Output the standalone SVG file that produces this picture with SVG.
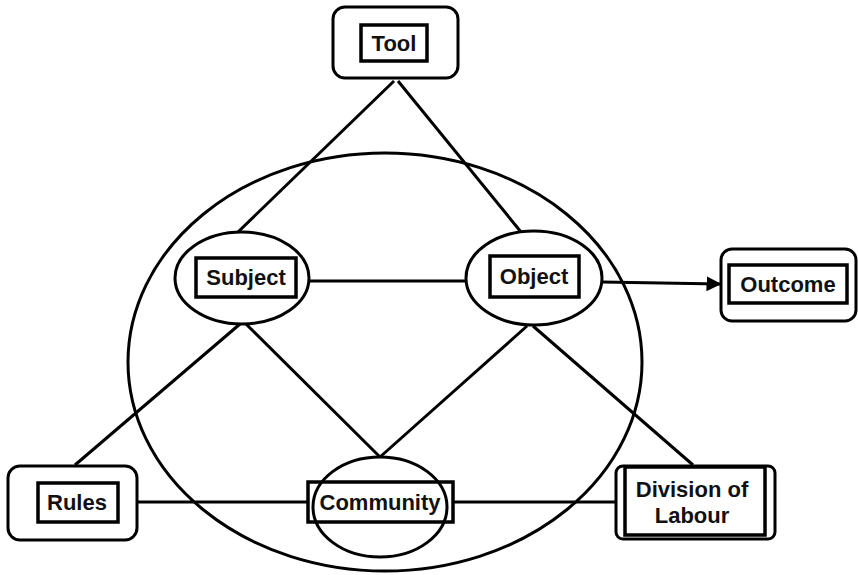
<svg xmlns="http://www.w3.org/2000/svg" width="858" height="575" viewBox="0 0 858 575">
<defs>
<style>
.ln{stroke:#000;stroke-width:3;fill:none}
.box{stroke:#000;stroke-width:3;fill:#fff}
.in{stroke:#000;stroke-width:3.5;fill:#fff}
.t{font-family:"Liberation Sans",Arial,sans-serif;font-weight:bold;font-size:22px;fill:#111;text-anchor:middle}
</style>
<marker id="ah" viewBox="0 0 10 10" refX="9" refY="5" markerWidth="5" markerHeight="5" orient="auto" markerUnits="strokeWidth">
<path d="M0,0 L10,5 L0,10 z" fill="#000"/>
</marker>
</defs>
<rect width="858" height="575" fill="#fff"/>
<ellipse id="context" class="ln" cx="385" cy="362" rx="257" ry="209"/>
<g id="connectors">
<line class="ln" x1="394" y1="81" x2="238" y2="232"/>
<line class="ln" x1="398" y1="81" x2="521" y2="232"/>
<line class="ln" x1="309" y1="281" x2="466" y2="281"/>
<line class="ln" x1="602" y1="282" x2="720" y2="284" marker-end="url(#ah)"/>
<line class="ln" x1="240" y1="324" x2="75" y2="465"/>
<line class="ln" x1="246" y1="324" x2="380" y2="457"/>
<line class="ln" x1="527" y1="326" x2="380" y2="457"/>
<line class="ln" x1="533" y1="326" x2="693" y2="465"/>
<line class="ln" x1="137" y1="502" x2="308" y2="502"/>
<line class="ln" x1="453" y1="502" x2="615" y2="502"/>
</g>
<g id="tool">
<rect class="box" x="333" y="7" width="125" height="71" rx="12"/>
<rect class="in" x="361" y="25" width="66" height="36"/>
<text class="t" x="394" y="51">Tool</text>
</g>
<g id="subject">
<ellipse class="box" cx="242" cy="278" rx="67" ry="46"/>
<rect class="in" x="196" y="258" width="100" height="39"/>
<text class="t" x="246" y="285">Subject</text>
</g>
<g id="object">
<ellipse class="box" cx="534" cy="278" rx="68" ry="47"/>
<rect class="in" x="490" y="256" width="89" height="41"/>
<text class="t" x="534" y="284">Object</text>
</g>
<g id="outcome">
<rect class="box" x="721" y="249" width="135" height="72" rx="11"/>
<rect class="in" x="729" y="265" width="118" height="38"/>
<text class="t" x="788" y="292">Outcome</text>
</g>
<g id="rules">
<rect class="box" x="8" y="466" width="129" height="74" rx="12"/>
<rect class="in" x="38" y="483" width="80" height="39"/>
<text class="t" x="77" y="510">Rules</text>
</g>
<g id="community">
<rect class="in" x="308" y="482" width="145" height="40"/>
<ellipse class="ln" cx="380" cy="507" rx="67" ry="50"/>
<text class="t" x="380" y="510">Community</text>
</g>
<g id="division">
<rect class="box" x="616" y="466" width="159" height="73" rx="7"/>
<rect class="in" x="625" y="467" width="140" height="68"/>
<text class="t" x="692" y="497">Division of</text>
<text class="t" x="692" y="523">Labour</text>
</g>
</svg>
